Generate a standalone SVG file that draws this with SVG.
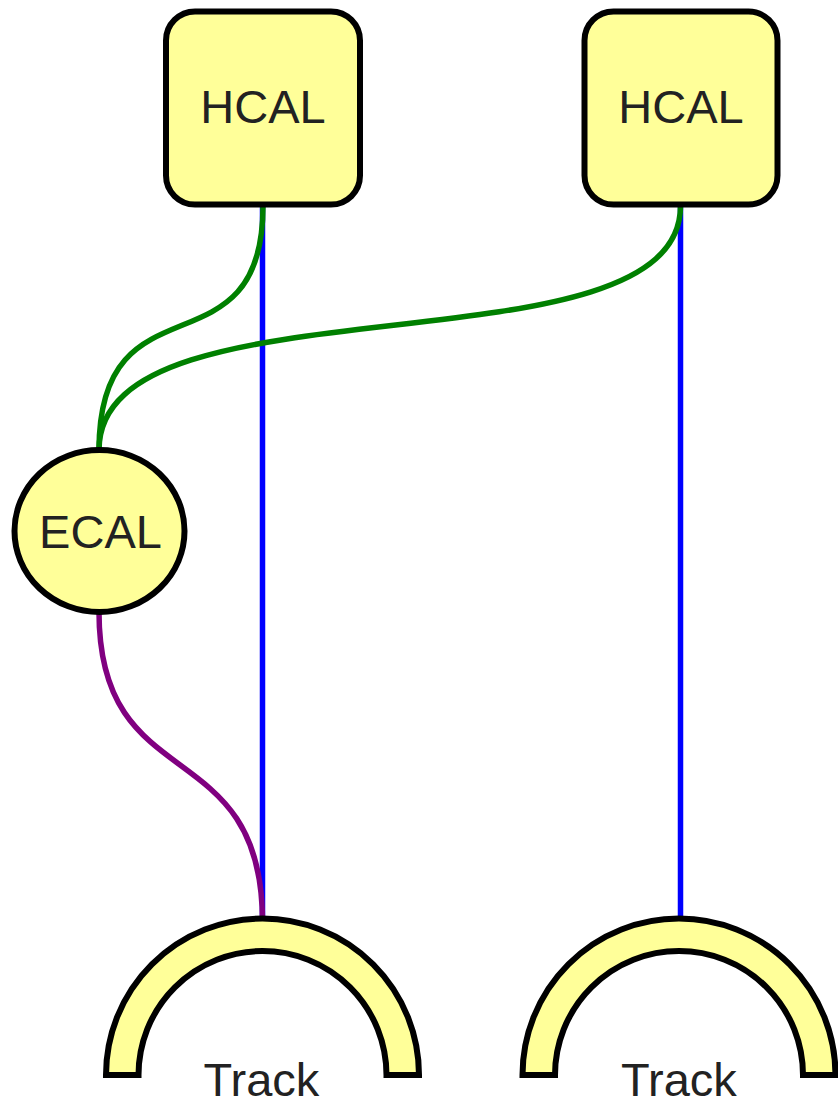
<svg xmlns="http://www.w3.org/2000/svg" width="838" height="1104" viewBox="0 0 838 1104">
  <style>
    .node { fill: #ffff99; stroke: #000000; stroke-width: 6; }
    .label { font-family: "Liberation Sans", Arial, sans-serif; font-size: 47px; fill: #222222; text-anchor: middle; }
    .edge { fill: none; stroke-width: 5.5; }
    .blue { stroke: #0000ff; }
    .green { stroke: #008000; }
    .purple { stroke: #800080; }
  </style>
  <rect width="838" height="1104" fill="#ffffff"/>
  <g id="connectors">
    <path class="edge blue" d="M262.5,206 L262.5,922"/>
    <path class="edge blue" d="M680.5,206 L680.5,922"/>
    <path class="edge green" d="M263,206 C263,380 99,270 99,450"/>
    <path class="edge green" d="M680.5,206 C680.5,380 99,270 99,450"/>
    <path class="edge purple" d="M99,612 C99,800 262.5,730 262.5,922"/>
  </g>
  <g id="hcal1">
    <rect class="node" x="166" y="11.5" width="194" height="193" rx="29" ry="29"/>
    <text class="label" x="263" y="123">HCAL</text>
  </g>
  <g id="hcal2">
    <rect class="node" x="584.5" y="11.5" width="193" height="193" rx="29" ry="29"/>
    <text class="label" x="681" y="123">HCAL</text>
  </g>
  <g id="ecal">
    <ellipse class="node" cx="99.5" cy="531" rx="85" ry="81"/>
    <text class="label" x="100.5" y="548">ECAL</text>
  </g>
  <g id="track1">
    <path class="node" d="M106,1075 A156.5,156.5 0 0 1 419,1075 L386.5,1075 A124,124 0 0 0 138.5,1075 Z"/>
    <text class="label" x="261.5" y="1096">Track</text>
  </g>
  <g id="track2">
    <path class="node" d="M522.5,1075 A156.5,156.5 0 0 1 835.5,1075 L803,1075 A124,124 0 0 0 555,1075 Z"/>
    <text class="label" x="679" y="1096">Track</text>
  </g>
</svg>
